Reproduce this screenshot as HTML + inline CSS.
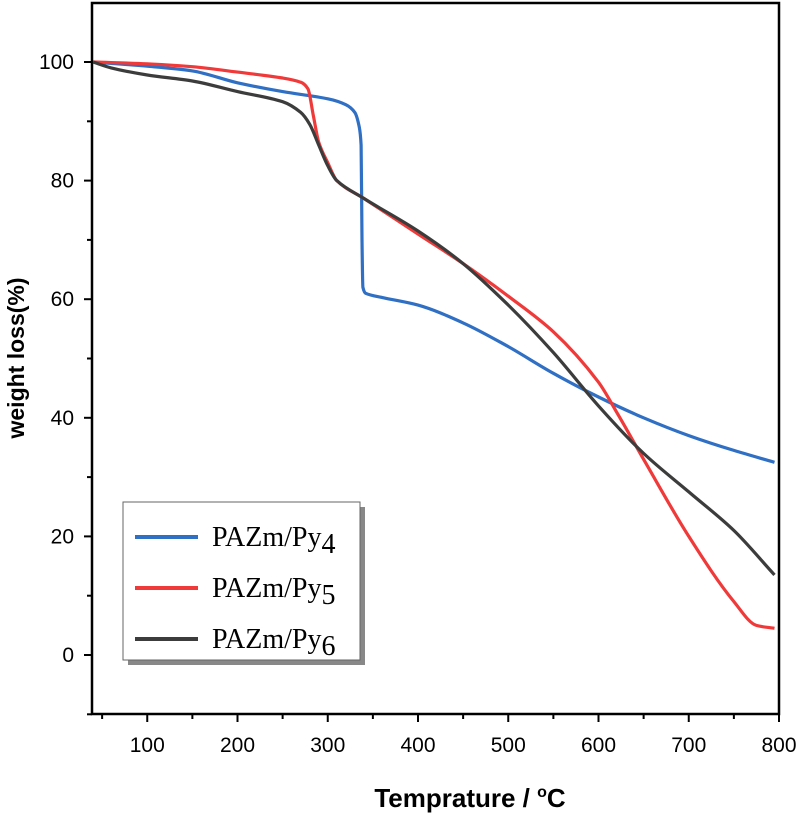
<!DOCTYPE html>
<html><head><meta charset="utf-8"><style>body{margin:0;background:#fff}svg{display:block}</style></head>
<body>
<svg id="c" width="800" height="817" xmlns="http://www.w3.org/2000/svg"></svg>
<script>
const xTicks=[100,200,300,400,500,600,700,800];
const yTicks=[0,20,40,60,80,100];
const seriesNames=["PAZm/Py","PAZm/Py","PAZm/Py"];
const seriesSubs=["4","5","6"];
const py4X=[40,100,150,200,250,300,320,330,335,337,338,339,342,360,400,450,500,550,600,650,700,750,795];
const py4Y=[100,99.3,98.5,96.5,95,93.8,92.8,91.5,89,86,70,62,61,60.3,59,56,52,47.5,43.5,40,37,34.5,32.5];
const py5X=[40,100,150,200,250,270,278,284,290,300,310,340,400,450,500,550,600,620,650,700,750,775,795];
const py5Y=[100,99.7,99.2,98.3,97.3,96.6,95.5,91,86.5,83,80,77,71,66,60.5,54.5,46,41,33,20,9,5,4.5];
const py6X=[40,60,100,150,200,250,270,280,290,300,310,340,400,450,500,550,600,650,700,750,795];
const py6Y=[100,99,97.8,96.8,95,93.3,91.5,89.5,86,82.5,80,77,71.5,66,59,51,42,34,27.5,21,13.5];
const colors=["#2f6fc4","#f03a3a","#3c3c3c"];
const NS="http://www.w3.org/2000/svg";
const svg=document.getElementById('c');
const sx=v=>57+0.9025*v, sy=v=>655-5.93*v;
function mk(t,a,p){const e=document.createElementNS(NS,t);for(const k in a)e.setAttribute(k,a[k]);(p||svg).appendChild(e);return e;}
function monoPath(X,Y){
  const n=X.length,px=X.map(sx),py=Y.map(sy),d=[],m=new Array(n);
  for(let i=0;i<n-1;i++)d.push((py[i+1]-py[i])/(px[i+1]-px[i]));
  m[0]=d[0];m[n-1]=d[n-2];
  for(let i=1;i<n-1;i++){m[i]=(d[i-1]*d[i]<=0)?0:(2/(1/d[i-1]+1/d[i]))*0.5+0.5*(d[i-1]+d[i])/2*0; }
  for(let i=1;i<n-1;i++){if(d[i-1]*d[i]<=0)m[i]=0;else m[i]=2*d[i-1]*d[i]/(d[i-1]+d[i]);}
  let s='M'+px[0].toFixed(1)+','+py[0].toFixed(1);
  for(let i=0;i<n-1;i++){const h=(px[i+1]-px[i])/3;
    s+=' C'+(px[i]+h).toFixed(1)+','+(py[i]+m[i]*h).toFixed(1)+' '+(px[i+1]-h).toFixed(1)+','+(py[i+1]-m[i+1]*h).toFixed(1)+' '+px[i+1].toFixed(1)+','+py[i+1].toFixed(1);}
  return s;
}
const frame=mk('rect',{x:92,y:3,width:687,height:711,fill:'none',stroke:'#000','stroke-width':2.5});


xTicks.forEach(v=>{
  const l=mk('line',{x1:sx(v),x2:sx(v),y1:714,y2:722,stroke:'#000','stroke-width':2});
  
  
  const m=mk('line',{x1:sx(v-50),x2:sx(v-50),y1:714,y2:719,stroke:'#000','stroke-width':2});
  
  
  const t=mk('text',{x:sx(v),y:752,'text-anchor':'middle','font-family':'Liberation Sans, sans-serif','font-size':21});
  t.textContent=v;
  
  
});
yTicks.forEach(v=>{
  const l=mk('line',{x1:84,x2:92,y1:sy(v),y2:sy(v),stroke:'#000','stroke-width':2});
  
  
  const m=mk('line',{x1:87,x2:92,y1:sy(v-10),y2:sy(v-10),stroke:'#000','stroke-width':2});
  
  
  const t=mk('text',{x:74,y:sy(v)+7,'text-anchor':'end','font-family':'Liberation Sans, sans-serif','font-size':21});
  t.textContent=v;
  
  
});
const xt=mk('text',{x:470,y:807,'text-anchor':'middle','font-family':'Liberation Sans, sans-serif','font-size':26,'font-weight':'bold'});
xt.innerHTML='Temprature / <tspan font-size="16" dy="-10">o</tspan><tspan dy="10">C</tspan>';


const yt=mk('text',{x:24,y:358,'text-anchor':'middle','font-family':'Liberation Sans, sans-serif','font-size':23,'font-weight':'bold',transform:'rotate(-90 24 358)'});
yt.textContent='weight loss(%)';


[[py4X,py4Y],[py5X,py5Y],[py6X,py6Y]].forEach((s,i)=>{
  const p=mk('path',{d:monoPath(s[0],s[1]),fill:'none',stroke:colors[i],'stroke-width':3.2,'stroke-linejoin':'round'});
  
  
});
const g=mk('g',{});


mk('rect',{x:128,y:507,width:237,height:158,fill:'#888'},g);
mk('rect',{x:123,y:502,width:237,height:158,fill:'#fff',stroke:'#666','stroke-width':1},g);
seriesNames.forEach((n,i)=>{
  const y=537+i*51;
  const l=mk('line',{x1:135,x2:198,y1:y,y2:y,stroke:colors[i],'stroke-width':4},g);
  
  
  const t=mk('text',{x:212,y:y+9,'font-family':'Liberation Serif, serif','font-size':28},g);
  t.innerHTML=n+'<tspan dy="7">'+seriesSubs[i]+'</tspan>';
  
  
});
</script>
</body></html>
